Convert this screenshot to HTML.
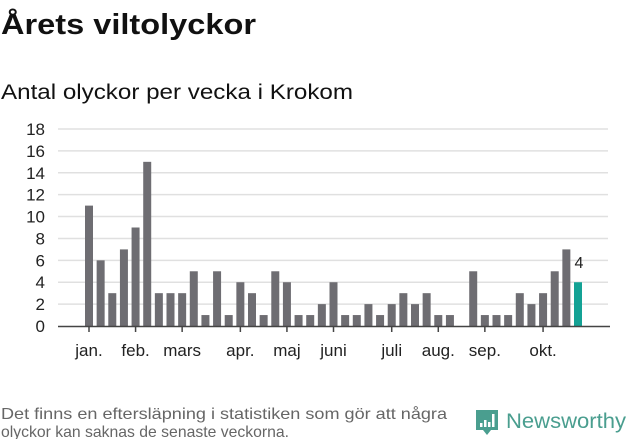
<!DOCTYPE html>
<html><head><meta charset="utf-8"><style>
body{margin:0;background:#fff;}
svg{display:block;font-family:"Liberation Sans","DejaVu Sans",sans-serif;}
</style></head><body>
<svg id="chart" width="631" height="439" viewBox="0 0 631 439">
<text x="1" y="34" font-size="29" font-weight="bold" fill="#111" textLength="255" lengthAdjust="spacingAndGlyphs">Årets viltolyckor</text>
<text x="1" y="99" font-size="21" fill="#111" textLength="352" lengthAdjust="spacingAndGlyphs">Antal olyckor per vecka i Krokom</text>
<g id="grid"></g>
<g id="yaxis"></g>
<g id="bars"></g>
<g id="xaxis"></g>
<text x="1" y="419" font-size="16" fill="#666" textLength="446" lengthAdjust="spacingAndGlyphs">Det finns en eftersläpning i statistiken som gör att några</text>
<text x="1" y="437" font-size="16" fill="#666" textLength="288" lengthAdjust="spacingAndGlyphs">olyckor kan saknas de senaste veckorna.</text>
<g>
<path d="M476 410 h22 v20 h-7 l-4 5 l-4 -5 h-7 z" fill="#4a9e8f"/>
<rect x="480" y="423" width="2.5" height="4" fill="#fff"/>
<rect x="484" y="420" width="2.5" height="7" fill="#fff"/>
<rect x="488" y="422" width="2.5" height="5" fill="#fff"/>
<rect x="492" y="414" width="2.5" height="13" fill="#fff"/>
<text x="506" y="428" font-size="21" fill="#4a9e8f" textLength="120" lengthAdjust="spacingAndGlyphs">Newsworthy</text>
</g>
</svg>
<script>
const values=[11,6,3,7,9,15,3,3,3,5,1,5,1,4,3,1,5,4,1,1,2,4,1,1,2,1,2,3,2,3,1,1,0,5,1,1,1,3,2,3,5,7,4];
const yTicks=[0,2,4,6,8,10,12,14,16,18];
const monthLabels=["jan.","feb.","mars","apr.","maj","juni","juli","aug.","sep.","okt."];
const monthIndex=[0,4,8,13,17,21,26,30,34,39];
const NS="http://www.w3.org/2000/svg";
const y=v=>326-v*(197/18);
const x=i=>89+i*(489/42);
function mk(t,a,p){const e=document.createElementNS(NS,t);for(const k in a)e.setAttribute(k,a[k]);p.appendChild(e);return e;}
const grid=document.getElementById('grid'),ya=document.getElementById('yaxis'),bars=document.getElementById('bars'),xa=document.getElementById('xaxis');
yTicks.forEach(t=>{
 if(t>0){const l=mk('line',{x1:58,x2:608,y1:y(t),y2:y(t),stroke:'#e0e0e0','stroke-width':1.5},grid);
 
 }
 const tx=mk('text',{x:45,y:y(t)+6,'font-size':17,'text-anchor':'end',fill:'#222'},ya);
 tx.textContent=t;
 
 
});
values.forEach((v,i)=>{
 const last=i===values.length-1;
 const r=mk('rect',{x:x(i)-4,y:y(v),width:8,height:y(0)-y(v),fill:last?'#14a295':'#6e6d72'},bars);
 
 
 if(last){const t=mk('text',{x:x(i)+1,y:y(v)-14,'font-size':16,'text-anchor':'middle',fill:'#222'},bars);t.textContent=v;
 
 }
});
const ax=mk('line',{x1:58,x2:610,y1:326.5,y2:326.5,stroke:'#444','stroke-width':1.5},xa);


monthLabels.forEach((m,k)=>{
 const cx=x(monthIndex[k]);
 const tk=mk('line',{x1:cx,x2:cx,y1:327,y2:332,stroke:'#444','stroke-width':1.5},xa);
 
 
 const t=mk('text',{x:cx,y:356,'font-size':17,'text-anchor':'middle',fill:'#222'},xa);
 t.textContent=m;
 
 
});
</script>
</body></html>
